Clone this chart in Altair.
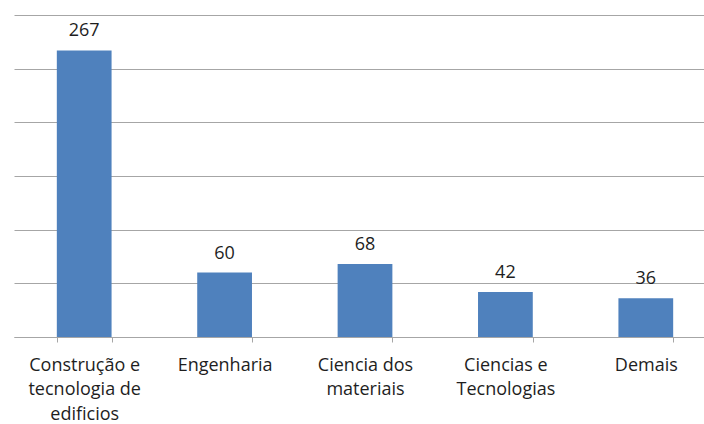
import altair as alt
import pandas as pd

# Publication counts by subject area
categories = [
    ["Construção e", "tecnologia de", "edificios"],
    ["Engenharia"],
    ["Ciencia dos", "materiais"],
    ["Ciencias e", "Tecnologias"],
    ["Demais"],
]
values = [267, 60, 68, 42, 36]

keys = ["c%d" % i for i in range(len(values))]
df = pd.DataFrame({"key": keys, "value": values})

# Multi-line tick labels looked up by category key
label_expr = "{" + ", ".join(
    "'%s': [%s]" % (k, ", ".join("'%s'" % s for s in lines))
    for k, lines in zip(keys, categories)
) + "}[datum.value]"

FONT = "Open Sans"
GRID = "#a6a6a6"
TEXT = "#1e1e1e"

x = alt.X(
    "key:N",
    sort=keys,
    title=None,
    scale=alt.Scale(range=[0, 702], paddingInner=0.61, paddingOuter=0.305),
    axis=alt.Axis(
        labelExpr=label_expr,
        labelAngle=0,
        labelFont=FONT,
        labelFontSize=18,
        labelColor=TEXT,
        labelLineHeight=24.5,
        labelPadding=14,
        labelBaseline="top",
        domainColor=GRID,
        tickColor=GRID,
        tickSize=5,
        tickBand="extent",
        grid=False,
    ),
)

y = alt.Y(
    "value:Q",
    title=None,
    scale=alt.Scale(domain=[0, 300], nice=False),
    axis=alt.Axis(
        values=[0, 50, 100, 150, 200, 250, 300],
        labels=False,
        ticks=False,
        domain=False,
        grid=True,
        gridColor=GRID,
        gridWidth=1,
    ),
)

bars = alt.Chart(df).mark_bar(color="#4f81bd").encode(x=x, y=y)

labels = alt.Chart(df).mark_text(
    font=FONT, fontSize=18, color=TEXT, baseline="alphabetic", dy=-14
).encode(x=alt.X("key:N", sort=keys), y="value:Q", text="value:Q")

chart = (
    alt.layer(bars, labels)
    .properties(
        width=690,
        height=322,
        autosize=alt.AutoSizeParams(type="none"),
        padding={"left": 14, "top": 15, "right": 0, "bottom": 87},
        background="white",
    )
    .configure_view(stroke=None)
)

chart.save("out.html", embed_options={"renderer": "svg", "actions": False})
